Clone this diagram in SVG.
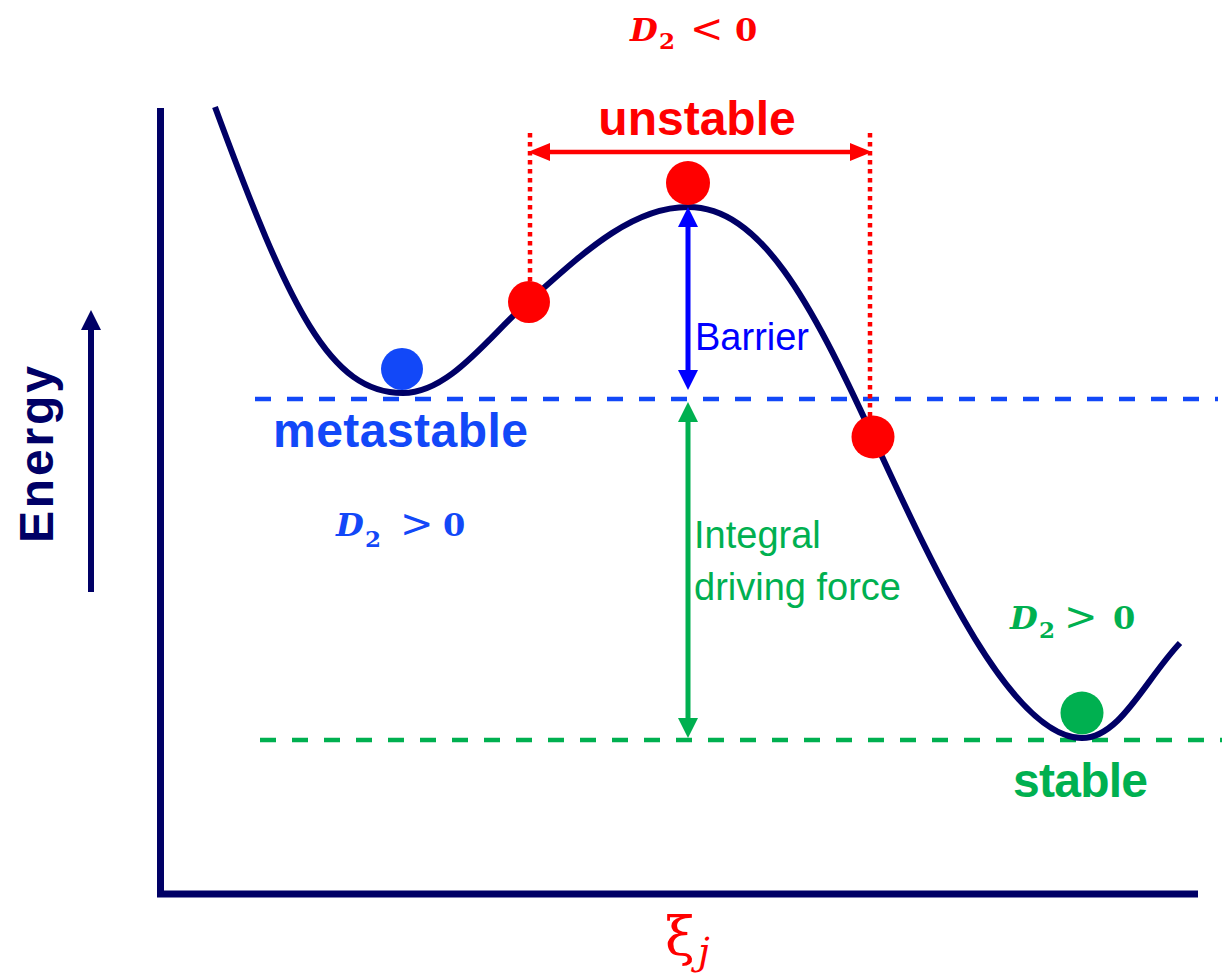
<svg xmlns="http://www.w3.org/2000/svg" width="1223" height="980" viewBox="0 0 1223 980">
<style>
.bold{font-family:"Liberation Sans",Arial,sans-serif;font-weight:bold;font-size:48px}
.reg{font-family:"Liberation Sans",Arial,sans-serif;font-size:38px}
.math{font-family:"DejaVu Serif","Liberation Serif",serif;font-weight:bold;font-size:32px}
.mi{font-style:italic}
.sub{font-size:23px}
.rel{font-size:40px;font-weight:normal}
.axis{stroke:#000066;stroke-width:7;fill:none}
.curve{stroke:#000066;stroke-width:6;fill:none}
.dash-b{stroke:#1248F8;stroke-width:4.5;stroke-dasharray:16 16;fill:none}
.dash-g{stroke:#00B050;stroke-width:4.5;stroke-dasharray:16 16;fill:none}
.dot-r{stroke:#FF0000;stroke-width:4.5;stroke-dasharray:4.5 4.5;fill:none}
</style>
<defs>
<marker id="ah-red" markerUnits="userSpaceOnUse" viewBox="0 0 22 20" refX="10" refY="10" markerWidth="22" markerHeight="20" orient="auto-start-reverse"><path d="M0,1 L22,10 L0,19 z" fill="#FF0000"/></marker>
<marker id="ah-blue" markerUnits="userSpaceOnUse" viewBox="0 0 20 20" refX="10" refY="10" markerWidth="20" markerHeight="20" orient="auto-start-reverse"><path d="M0,0 L20,10 L0,20 z" fill="#0000FF"/></marker>
<marker id="ah-green" markerUnits="userSpaceOnUse" viewBox="0 0 20 20" refX="10" refY="10" markerWidth="20" markerHeight="20" orient="auto-start-reverse"><path d="M0,0 L20,10 L0,20 z" fill="#00B050"/></marker>
<marker id="ah-navy" markerUnits="userSpaceOnUse" viewBox="0 0 20 20" refX="10" refY="10" markerWidth="20" markerHeight="20" orient="auto-start-reverse"><path d="M0,0 L20,10 L0,20 z" fill="#000066"/></marker>
</defs>
<rect width="1223" height="980" fill="#FFFFFF"/>

<g id="axes">
<line class="axis" x1="160.5" y1="108" x2="160.5" y2="897"/>
<line class="axis" x1="157" y1="894" x2="1198" y2="894"/>
</g>

<g id="levels">
<line class="dash-b" x1="255" y1="399" x2="1218" y2="399"/>
<line class="dash-g" x1="260" y1="740" x2="1222" y2="740"/>
<line class="dot-r" x1="530" y1="133" x2="530" y2="284"/>
<line class="dot-r" x1="870" y1="133" x2="870" y2="418"/>
</g>

<g id="energy-curve">
<path class="curve" d="M215,107 C290,310 330,393 403,393 C450,393 490,335 528,302 C580,256 630,207 688,207 C760,207 810,300 873,437 C930,560 1010,738 1082,738 C1120,738 1145,680 1180,643"/>
</g>

<g id="connectors">
<line x1="540" y1="152" x2="860" y2="152" stroke="#FF0000" stroke-width="4.5" marker-start="url(#ah-red)" marker-end="url(#ah-red)"/>
<line x1="688" y1="217" x2="688" y2="380" stroke="#0000FF" stroke-width="5" marker-start="url(#ah-blue)" marker-end="url(#ah-blue)"/>
<line x1="688" y1="412" x2="688" y2="728" stroke="#00B050" stroke-width="5" marker-start="url(#ah-green)" marker-end="url(#ah-green)"/>
<line x1="91" y1="592" x2="91" y2="320" stroke="#000066" stroke-width="6" marker-end="url(#ah-navy)"/>
</g>

<g id="ball-metastable"><circle cx="402" cy="369" r="21" fill="#1248F8"/></g>
<g id="ball-unstable-left"><circle cx="529" cy="302" r="21" fill="#FF0000"/></g>
<g id="ball-unstable-top"><circle cx="688" cy="183" r="22" fill="#FF0000"/></g>
<g id="ball-unstable-right"><circle cx="873" cy="437" r="21.5" fill="#FF0000"/></g>
<g id="ball-stable"><circle cx="1082" cy="713" r="21.5" fill="#00B050"/></g>

<g id="label-d2-unstable" fill="#FF0000">
<text class="math"><tspan class="mi" x="630" y="41">D</tspan><tspan class="sub" x="659" y="49">2</tspan><tspan class="rel" x="690" y="42">&lt;</tspan><tspan x="735" y="41">0</tspan></text>
</g>
<g id="label-unstable"><text class="bold" x="697" y="135" text-anchor="middle" fill="#FF0000">unstable</text></g>
<g id="label-barrier"><text class="reg" x="695" y="350" fill="#0000FF">Barrier</text></g>
<g id="label-metastable"><text class="bold" x="273" y="447" fill="#1248F8" textLength="255">metastable</text></g>
<g id="label-d2-meta" fill="#1248F8">
<text class="math"><tspan class="mi" x="336" y="536">D</tspan><tspan class="sub" x="365" y="547">2</tspan><tspan class="rel" x="400" y="537">&gt;</tspan><tspan x="443" y="536">0</tspan></text>
</g>
<g id="label-driving" fill="#00B050">
<text class="reg" x="694" y="548">Integral</text>
<text class="reg" x="694" y="600">driving force</text>
</g>
<g id="label-d2-stable" fill="#00B050">
<text class="math"><tspan class="mi" x="1010" y="629">D</tspan><tspan class="sub" x="1039" y="638">2</tspan><tspan class="rel" x="1064" y="630">&gt;</tspan><tspan x="1113" y="629">0</tspan></text>
</g>
<g id="label-stable"><text class="bold" x="1013" y="797" fill="#00B050" textLength="135">stable</text></g>
<g id="label-energy"><text class="bold" transform="translate(53,543) rotate(-90)" font-size="52" fill="#000066" textLength="177">Energy</text></g>
<g id="label-xi" fill="#FF0000">
<text font-family="'DejaVu Serif','Liberation Serif',serif"><tspan x="665" y="955" font-size="54">ξ</tspan><tspan x="698" y="964" font-size="38" font-style="italic">j</tspan></text>
</g>
</svg>
